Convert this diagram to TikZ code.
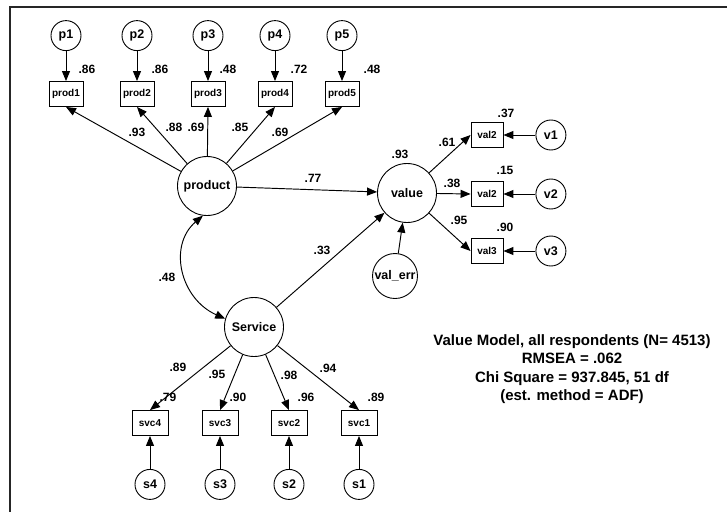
\documentclass[tikz,border=0pt]{standalone}
\usepackage{fontspec}
\setmainfont{Liberation Sans}
\usetikzlibrary{arrows.meta,positioning}

\begin{document}
\begin{tikzpicture}[x=1pt,y=-1pt,
    >={Triangle[length=10pt,width=8pt]},
    every node/.style={font=\bfseries\fontsize{12.5}{14}\selectfont},
    latent/.style={circle,draw,line width=0.9pt,minimum size=59pt,inner sep=0pt},
    errc/.style={circle,draw,line width=0.9pt,minimum size=30pt,inner sep=0pt},
    obs/.style={rectangle,draw,line width=0.9pt,minimum width=34pt,minimum height=25pt,inner sep=1pt,
                font=\bfseries\fontsize{10}{12}\selectfont},
    coef/.style={font=\bfseries\fontsize{12}{14}\selectfont},
    link/.style={->,line width=0.95pt}]
      \useasboundingbox (0,0) rectangle (727,512);
      \draw[line width=1.3pt,black!85] (727,7) -- (10,7) -- (10,512);

      % latent variables
      \node[latent] (product) at (207,186) {product};
      \node[latent] (value) at (407,193) {value};
      \node[latent] (service) at (254,327) {Service};
      \node[circle,draw,line width=0.9pt,minimum size=45pt,inner sep=0pt] (valerr) at (395,276) {val\_err};

      % product indicators
      \node[obs] (prod1) at (66,94) {prod1};
      \node[obs] (prod2) at (137,94) {prod2};
      \node[obs] (prod3) at (208,94) {prod3};
      \node[obs] (prod4) at (275,94) {prod4};
      \node[obs] (prod5) at (342,94) {prod5};
      \node[errc,above=30pt of prod1] (p1) {p1};
      \node[errc,above=30pt of prod2] (p2) {p2};
      \node[errc,above=30pt of prod3] (p3) {p3};
      \node[errc,above=30pt of prod4] (p4) {p4};
      \node[errc,above=30pt of prod5] (p5) {p5};

      % value indicators
      \node[obs,minimum width=32pt] (vala) at (487,135) {val2};
      \node[obs,minimum width=32pt] (valb) at (487,194) {val2};
      \node[obs,minimum width=32pt] (valc) at (487,251) {val3};
      \node[errc,right=32pt of vala] (v1) {v1};
      \node[errc,right=32pt of valb] (v2) {v2};
      \node[errc,right=32pt of valc] (v3) {v3};

      % service indicators
      \node[obs,minimum width=36pt] (svc4) at (150,423) {svc4};
      \node[obs,minimum width=36pt] (svc3) at (220,423) {svc3};
      \node[obs,minimum width=36pt] (svc2) at (289,423) {svc2};
      \node[obs,minimum width=36pt] (svc1) at (359,423) {svc1};
      \node[errc,below=33pt of svc4] (s4) {s4};
      \node[errc,below=33pt of svc3] (s3) {s3};
      \node[errc,below=33pt of svc2] (s2) {s2};
      \node[errc,below=33pt of svc1] (s1) {s1};

      % paths
      \foreach \i in {1,...,5} {
        \draw[link] (p\i) -- (prod\i);
        \draw[link] (product) -- (prod\i.south);
      }
      \foreach \i in {1,...,4} {
        \draw[link] (s\i) -- (svc\i);
        \draw[link] (service) -- (svc\i.north);
      }
      \draw[link] (v1) -- (vala);
      \draw[link] (v2) -- (valb);
      \draw[link] (v3) -- (valc);
      \draw[link] (value) -- (vala.west);
      \draw[link] (value) -- (valb.west);
      \draw[link] (value) -- (valc.west);
      \draw[link] (product) -- (value);
      \draw[link] (service) -- (value);
      \draw[link] (valerr) -- (value);
      \draw[<->,line width=0.95pt] (product.262) .. controls +(-35,30) and +(-45,-20) .. (service.164);

      % estimates
      \node[coef] (r1) at (87,69) {.86};
      \node[coef] (r2) at (160,69) {.86};
      \node[coef] (r3) at (228,69) {.48};
      \node[coef] (r4) at (299,69) {.72};
      \node[coef] (r5) at (372,69) {.48};
      \node[coef] (l1) at (137,132) {.93};
      \node[coef] (l2) at (174,127) {.88};
      \node[coef] (l3) at (196,127) {.69};
      \node[coef] (l4) at (240,127) {.85};
      \node[coef] (l5) at (280,132) {.69};
      \node[coef] (b1) at (313,178) {.77};
      \node[coef] (b2) at (322,250) {.33};
      \node[coef] (cv) at (167,277) {.48};
      \node[coef] (rv) at (400,154) {.93};
      \node[coef] (m1) at (447,142) {.61};
      \node[coef] (m2) at (452,183) {.38};
      \node[coef] (m3) at (459,220) {.95};
      \node[coef] (q1) at (506,113) {.37};
      \node[coef] (q2) at (505,170) {.15};
      \node[coef] (q3) at (505,227) {.90};
      \node[coef] (k4) at (178,367) {.89};
      \node[coef] (k3) at (217,374) {.95};
      \node[coef] (k2) at (289,375) {.98};
      \node[coef] (k1) at (328,368) {.94};
      \node[coef] (t4) at (168,397) {.79};
      \node[coef] (t3) at (238,397) {.90};
      \node[coef] (t2) at (306,397) {.96};
      \node[coef] (t1) at (376,397) {.89};

      \node[align=center,font=\bfseries\fontsize{15}{18.5}\selectfont] (fit) at (572,369)
        {Value Model, all respondents (N= 4513)\\RMSEA = .062\\Chi Square = 937.845, 51 df\\(est. method = ADF)};
\end{tikzpicture}
\end{document}
